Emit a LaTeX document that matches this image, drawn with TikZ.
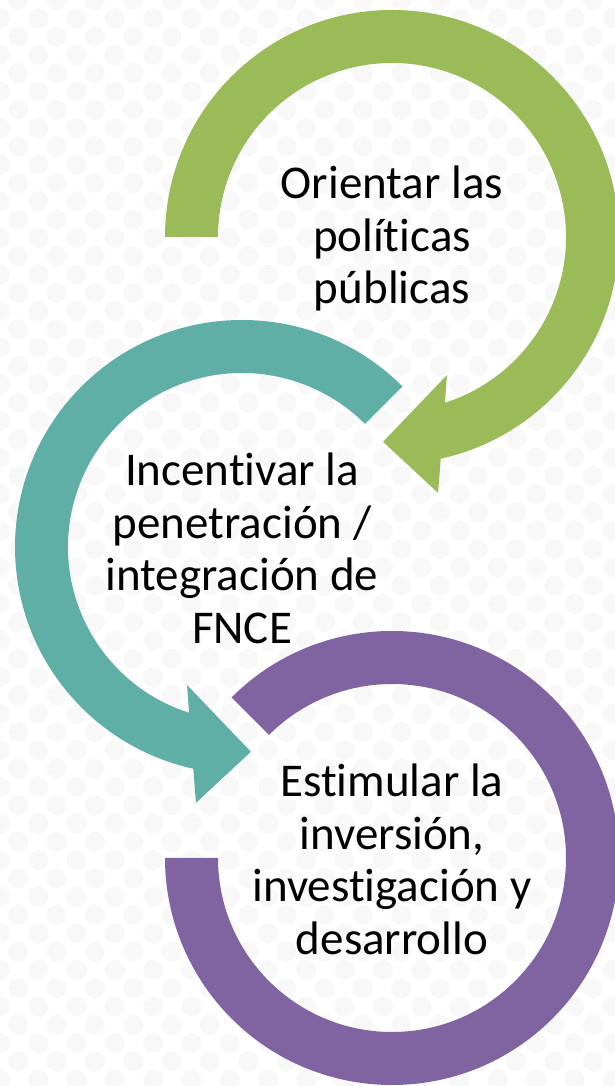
\documentclass[tikz,border=0pt]{standalone}
\usepackage{fontspec}
\setmainfont{Carlito}[Ligatures={NoCommon}]
\definecolor{cgreen}{HTML}{9BBB59}
\definecolor{cteal}{HTML}{5FAFA7}
\definecolor{cpurple}{HTML}{8064A2}
\definecolor{dotc}{HTML}{F8F8F8}
\begin{document}
\begin{tikzpicture}[x=1pt,y=1pt,
  lbl/.style={align=center,font=\fontsize{47}{52.5}\selectfont,inner sep=0pt,text=black}]
\useasboundingbox (0,0) rectangle (615,1086);
\clip (0,0) rectangle (615,1086);
\fill[white] (0,0) rectangle (615,1086);
% faint dotted background
\foreach \k in {0,...,60}{
  \pgfmathsetmacro\yy{1086-18.3*\k}
  \pgfmathsetmacro\xo{mod(\k,2)==0 ? 18.3 : 0}
  \foreach \c in {0,...,16}{
    \fill[dotc] (\xo+38.3*\c,\yy) circle[radius=10];
  }
}
% green circular arrow
\begin{scope}[shift={(392,849)}]
\fill[cgreen] (180:227) arc[start angle=180,end angle=-77.6,radius=227]
  -- (-79.8:260) -- (-92.5:205) -- (-68.3:148.6) -- (-72.3:174)
  arc[start angle=-72.3,end angle=180,radius=174] -- cycle;
\end{scope}
% teal circular arrow
\begin{scope}[shift={(242,539)}]
\fill[cteal] (45:227) arc[start angle=45,end angle=257.6,radius=227]
  -- (259.8:260) -- (272.5:205) -- (248.3:148.6) -- (252.3:174)
  arc[start angle=252.3,end angle=45,radius=174] -- cycle;
\end{scope}
% purple ring
\begin{scope}[shift={(392,228)}]
\fill[cpurple] (135:227) arc[start angle=135,end angle=-180,radius=227]
  -- (180:174) arc[start angle=-180,end angle=135,radius=174] -- cycle;
\end{scope}
\node[lbl] (orientar) at (392,847.5) {Orientar las\\políticas\\públicas};
\node[lbl] (incentivar) at (242,537.5) {Incentivar la\\penetración /\\integración de\\FNCE};
\node[lbl] (estimular) at (392,226.5) {Estimular la\\inversión,\\investigación y\\desarrollo};
\end{tikzpicture}
\end{document}
